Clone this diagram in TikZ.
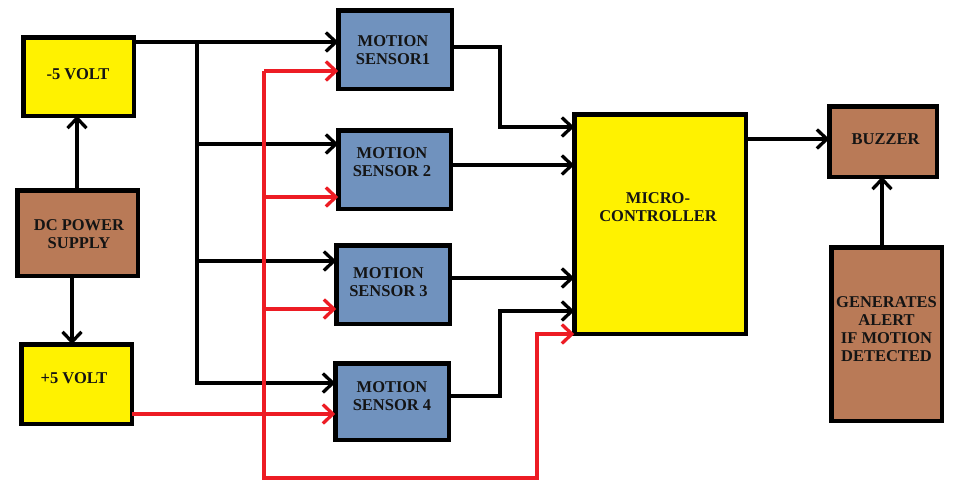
\documentclass[tikz,border=0pt]{standalone}
\usepackage{fontspec}
\setmainfont{Liberation Serif}
\usetikzlibrary{arrows.meta}
\definecolor{ylw}{RGB}{255,242,0}
\definecolor{brn}{RGB}{185,122,87}
\definecolor{blu}{RGB}{112,146,190}
\definecolor{rd}{RGB}{237,28,36}
\begin{document}
\begin{tikzpicture}[x=1pt,y=-1pt,
  boxb/.style={draw=black,line width=4.5pt,inner sep=0pt,outer sep=0pt},
  ybox/.style={boxb,fill=ylw},
  bbox/.style={boxb,fill=brn},
  sbox/.style={boxb,fill=blu},
  txt/.style={font=\fontsize{16.5}{18}\selectfont\bfseries,align=center,inner sep=0pt,text=black!92},
  wire/.style={line width=3.3pt,line join=miter},
  bw/.style={wire,draw=black},
  rw/.style={wire,draw=rd},
  tip/.style={-{Straight Barb[length=10pt,width=19pt]}}
]
\useasboundingbox[fill=white] (0,0) rectangle (975,490);

% boxes
\node[ybox,minimum width=110.5pt,minimum height=78.5pt] (m5) at (78.5,76.5) {};
\node[bbox,minimum width=120.5pt,minimum height=85.5pt] (dc) at (77.5,233) {};
\node[ybox,minimum width=110.5pt,minimum height=79.5pt] (p5) at (76.5,384) {};
\node[sbox,minimum width=113.5pt,minimum height=78.5pt] (s1) at (395,49.5) {};
\node[sbox,minimum width=112.5pt,minimum height=78.5pt] (s2) at (394.5,169.5) {};
\node[sbox,minimum width=113.5pt,minimum height=78.5pt] (s3) at (393,284.5) {};
\node[sbox,minimum width=113.5pt,minimum height=76.5pt] (s4) at (392,401.5) {};
\node[ybox,minimum width=171.5pt,minimum height=219.5pt] (mc) at (660,224) {};
\node[bbox,minimum width=107.5pt,minimum height=70.5pt] (bz) at (883,141.5) {};
\node[bbox,minimum width=110.5pt,minimum height=173.5pt] (ga) at (886.5,334) {};

% texts
\node[txt] (tm5) at (78,74) {-5 VOLT};
\node[txt] (tdc) at (79,234) {DC POWER\\SUPPLY};
\node[txt] (tp5) at (74,378) {+5 VOLT};
\node[txt] (ts1) at (393,50) {MOTION\\SENSOR1};
\node[txt] (ts2) at (392,162.5) {MOTION\\SENSOR 2};
\node[txt] (ts3) at (388.5,282.5) {MOTION\\SENSOR 3};
\node[txt] (ts4) at (392,396) {MOTION\\SENSOR 4};
\node[txt] (tmc) at (658,207.5) {MICRO-\\CONTROLLER};
\node[txt] (tbz) at (885.5,139) {BUZZER};
\node[txt] (tga) at (886.5,329) {GENERATES\\ALERT\\IF MOTION\\DETECTED};

% helper coordinates
\coordinate (a1) at (77,0);
\coordinate (a2) at (72,0);
\coordinate (kT) at (197,42);
\coordinate (k2) at (197,144);
\coordinate (k3) at (197,261);
\coordinate (k4) at (197,383);
\coordinate (rT) at (264,71);
\coordinate (r2) at (264,197);
\coordinate (r3) at (264,309);
\coordinate (r4) at (264,414);
\coordinate (rB) at (264,478);
\coordinate (rc) at (537,478);
\coordinate (ri) at (537,334);
\coordinate (o1) at (500,47);
\coordinate (i1) at (500,127);
\coordinate (i2) at (500,165);
\coordinate (i3) at (500,278);
\coordinate (o4) at (500,396);
\coordinate (i4) at (500,311);
\coordinate (bo) at (800,139);
\coordinate (g) at (882,0);

% power supply arrows
\draw[bw,tip] (dc.north -| a1) -- (m5.south -| a1);
\draw[bw,tip] (dc.south -| a2) -- (p5.north -| a2);

% black (-5 V) bus
\draw[bw,tip] (m5.east |- kT) -- (s1.west |- kT);
\draw[bw,tip] (kT) -- (k4) -- (s4.west |- k4);
\draw[bw,tip] (k2) -- (s2.west |- k2);
\draw[bw,tip] (k3) -- (s3.west |- k3);

% sensor outputs
\draw[bw,tip] (s1.east |- o1) -- (o1) -- (i1) -- (mc.west |- i1);
\draw[bw,tip] (s2.east |- i2) -- (mc.west |- i2);
\draw[bw,tip] (s3.east |- i3) -- (mc.west |- i3);
\draw[bw,tip] (s4.east |- o4) -- (o4) -- (i4) -- (mc.west |- i4);

% controller to buzzer, alert to buzzer
\draw[bw,tip] (mc.east |- bo) -- (bz.west |- bo);
\draw[bw,tip] (ga.north -| g) -- (bz.south -| g);

% red (+5 V) bus
\draw[rw,tip] (p5.east |- r4) -- (s4.west |- r4);
\draw[rw,tip] (rT) -- (rB) -- (rc) -- (ri) -- (mc.west |- ri);
\draw[rw,tip] (rT) -- (s1.west |- rT);
\draw[rw,tip] (r2) -- (s2.west |- r2);
\draw[rw,tip] (r3) -- (s3.west |- r3);
\end{tikzpicture}
\end{document}
